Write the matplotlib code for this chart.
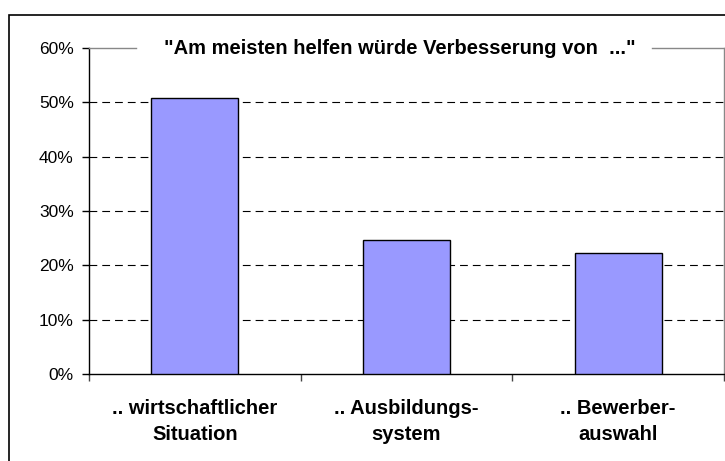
import matplotlib
matplotlib.use('Agg')
import matplotlib.pyplot as plt
from matplotlib.lines import Line2D
from matplotlib.patches import Rectangle
from matplotlib.ticker import PercentFormatter

categories = ['.. wirtschaftlicher\nSituation', '.. Ausbildungs-\nsystem', '.. Bewerber-\nauswahl']
shares = [50.8, 24.7, 22.3]
yticks = [0, 10, 20, 30, 40, 50, 60]
title = '"Am meisten helfen würde Verbesserung von  ..."'

plt.rcParams['font.family'] = ['Liberation Sans', 'DejaVu Sans']

W, H = 725, 461
fig = plt.figure(figsize=(W / 100, H / 100), dpi=100)
fig.patch.set_facecolor('white')

# frame around the whole chart
fig.patches.append(Rectangle((8.5 / W, -0.1), 1.2, 1 - 15.5 / H + 0.1,
                             transform=fig.transFigure, fill=False,
                             edgecolor='black', linewidth=1.2))

ax = fig.add_axes([89 / W, 1 - 374 / H, (724 - 89) / W, (374 - 48) / H])

x = range(len(categories))
ax.bar(x, shares, width=0.41, color='#9999FF', edgecolor='black', linewidth=1, zorder=3)

ax.set_xlim(-0.5, len(categories) - 0.5)
ax.set_ylim(0, 60)
ax.set_yticks(yticks)
ax.yaxis.set_major_formatter(PercentFormatter(decimals=0))

for y in yticks[1:-1]:
    ax.axhline(y, color='black', linewidth=0.8, linestyle=(0, (7, 4.5)), zorder=1)

ax.set_xticks(list(x))
ax.set_xticklabels(categories, fontsize=14.5, fontweight='bold', linespacing=1.45)
ax.set_xticks([i - 0.5 for i in range(len(categories) + 1)], minor=True)
ax.tick_params(axis='x', which='major', length=0, pad=18)
ax.tick_params(axis='x', which='minor', length=5, width=1, color='#444444')
ax.tick_params(axis='y', length=5, width=1, labelsize=12.5, pad=6)

for side in ['left', 'bottom']:
    ax.spines[side].set_color('black')
    ax.spines[side].set_linewidth(1)
ax.spines['right'].set_color('#888888')
ax.spines['right'].set_linewidth(1)
ax.spines['top'].set_visible(False)

# top frame line, broken where the title sits
y_top = 1 - 48 / H
for x0, x1 in [(89, 136), (652, 724)]:
    fig.lines.append(Line2D([x0 / W, x1 / W], [y_top, y_top], transform=fig.transFigure,
                            color='#888888', linewidth=1))

fig.text(400 / W, 1 - 49 / H, title, fontsize=14.5, fontweight='bold',
         ha='center', va='center')

fig.savefig('out.png', dpi=100)
